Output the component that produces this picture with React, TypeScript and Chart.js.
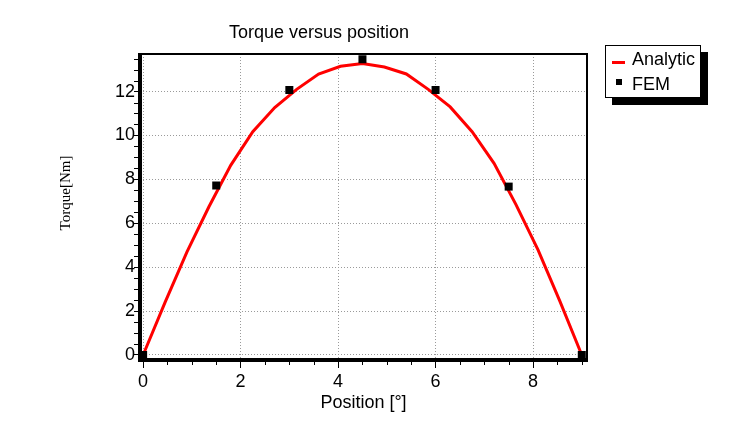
import React, { useEffect, useRef } from "react";
import { Chart, registerables } from "chart.js";

Chart.register(...registerables);

// Analytic torque curve (position in degrees, torque in Nm)
const analyticX = [0, 0.45, 0.9, 1.35, 1.8, 2.25, 2.7, 3.15, 3.6, 4.05, 4.5, 4.95, 5.4, 5.85, 6.3, 6.75, 7.2, 7.65, 8.1, 8.55, 9];
const analyticY = [0, 2.4, 4.7, 6.75, 8.65, 10.17, 11.27, 12.1, 12.8, 13.15, 13.28, 13.12, 12.8, 12.1, 11.3, 10.17, 8.73, 6.85, 4.8, 2.45, 0];

// FEM results
const femX = [0, 1.5, 3, 4.5, 6, 7.5, 9];
const femY = [0, 7.72, 12.07, 13.47, 12.07, 7.67, 0];

// Axis ticks
const xTicks = [0, 2, 4, 6, 8];
const yTicks = [0, 2, 4, 6, 8, 10, 12];
const xMinorTicks = [0.5, 1, 1.5, 2.5, 3, 3.5, 4.5, 5, 5.5, 6.5, 7, 7.5, 8.5, 9];
const yMinorTicks = [0.5, 1, 1.5, 2.5, 3, 3.5, 4.5, 5, 5.5, 6.5, 7, 7.5, 8.5, 9, 9.5, 10.5, 11, 11.5, 12.5, 13, 13.5];

const SANS = "'Liberation Sans', Arial, sans-serif";

export default function App() {
  const ref = useRef<HTMLCanvasElement>(null);

  useEffect(() => {
    if (!ref.current) return;
    const framePlugin = {
      id: "framePlugin",
      afterDraw(chart: any) {
        const { ctx, chartArea, scales } = chart;
        const { left, right, top, bottom } = chartArea;
        ctx.save();
        ctx.strokeStyle = "#000";
        // minor ticks
        ctx.lineWidth = 1;
        ctx.beginPath();
        xMinorTicks.forEach((v) => {
          const px = Math.round(scales.x.getPixelForValue(v)) + 0.5;
          ctx.moveTo(px, bottom);
          ctx.lineTo(px, bottom + 5);
        });
        yMinorTicks.forEach((v) => {
          const py = Math.round(scales.y.getPixelForValue(v)) + 0.5;
          ctx.moveTo(left - 6, py);
          ctx.lineTo(left, py);
        });
        ctx.stroke();
        // thin top/right frame
        ctx.lineWidth = 2;
        ctx.beginPath();
        ctx.moveTo(left, top);
        ctx.lineTo(right, top);
        ctx.lineTo(right, bottom);
        ctx.stroke();
        // thick left/bottom axes
        ctx.lineWidth = 4;
        ctx.beginPath();
        ctx.moveTo(left, top - 1);
        ctx.lineTo(left, bottom + 2);
        ctx.moveTo(left - 2, bottom);
        ctx.lineTo(right + 1, bottom);
        ctx.stroke();
        // y axis title
        ctx.fillStyle = "#000";
        ctx.font = "15px 'Liberation Serif', 'Times New Roman', serif";
        ctx.textAlign = "center";
        ctx.textBaseline = "middle";
        ctx.translate(66, 193);
        ctx.rotate(-Math.PI / 2);
        ctx.fillText("Torque[Nm]", 0, 0);
        ctx.restore();
      },
    };

    const tickFont = { family: SANS, size: 18, weight: "normal" as const, lineHeight: 1.2 };

    const chart = new Chart(ref.current, {
      type: "scatter",
      data: {
        datasets: [
          {
            label: "FEM",
            data: femX.map((x, i) => ({ x, y: femY[i] })),
            pointStyle: "rect",
            pointRadius: 5.66,
            pointHoverRadius: 5.66,
            backgroundColor: "#000",
            borderColor: "#000",
            borderWidth: 0,
            showLine: false,
            clip: false as any,
          },
          {
            label: "Analytic",
            data: analyticX.map((x, i) => ({ x, y: analyticY[i] })),
            showLine: true,
            borderColor: "#ff0000",
            backgroundColor: "#ff0000",
            borderWidth: 3,
            pointRadius: 0,
            pointHoverRadius: 0,
            tension: 0,
            fill: false,
          },
        ],
      },
      options: {
        responsive: false,
        animation: false,
        devicePixelRatio: 1,
        events: [],
        layout: { padding: { left: 51, right: 153, top: 0, bottom: 8 } },
        plugins: {
          legend: { display: false },
          tooltip: { enabled: false },
          title: {
            display: true,
            text: "Torque versus position",
            color: "#000",
            font: { family: SANS, size: 18, weight: "normal", lineHeight: 1.2 },
            padding: { top: 22, bottom: 10.4 },
          },
        },
        scales: {
          x: {
            type: "linear",
            min: -0.064,
            max: 9.107,
            afterFit: (s: any) => {
              s.height = 60;
            },
            afterBuildTicks: (s: any) => {
              s.ticks = xTicks.map((v) => ({ value: v }));
            },
            ticks: { color: "#000", font: tickFont, padding: 3, maxRotation: 0, autoSkip: false },
            grid: {
              color: "#9a9a9a",
              lineWidth: 1,
              drawTicks: true,
              tickLength: 8,
              tickColor: "#000",
              tickWidth: 1,
              tickBorderDash: [],
            } as any,
            border: { display: false, dash: [1, 2] } as any,
            title: {
              display: true,
              text: "Position [°]",
              color: "#000",
              font: tickFont,
              padding: { top: 0, bottom: 5.7 },
            },
          },
          y: {
            type: "linear",
            min: -0.228,
            max: 13.71,
            afterFit: (s: any) => {
              s.width = 89;
            },
            afterBuildTicks: (s: any) => {
              s.ticks = yTicks.map((v) => ({ value: v }));
            },
            ticks: { color: "#000", font: tickFont, padding: -1, autoSkip: false },
            grid: {
              color: "#9a9a9a",
              lineWidth: 1,
              drawTicks: true,
              tickLength: 6,
              tickColor: "#000",
              tickWidth: 1,
              tickBorderDash: [],
            } as any,
            border: { display: false, dash: [1, 2] } as any,
          },
        },
      },
      plugins: [framePlugin],
    });
    return () => chart.destroy();
  }, []);

  return (
    <div style={{ position: "absolute", left: 0, top: 0, width: 740, height: 428, background: "#fff" }}>
      <canvas ref={ref} width={740} height={428} style={{ position: "absolute", left: 0, top: 0, width: 740, height: 428 }} />
      <div
        style={{
          position: "absolute",
          left: 605,
          top: 45,
          width: 96,
          height: 53,
          boxSizing: "border-box",
          border: "1px solid #000",
          background: "#fff",
          boxShadow: "7px 7px 0 #000",
          fontFamily: SANS,
          fontSize: 18,
          lineHeight: "20px",
          color: "#000",
        }}
      >
        <div style={{ position: "absolute", left: 6, top: 15, width: 13, height: 3, background: "#ff0000" }} />
        <div style={{ position: "absolute", left: 26, top: 3, whiteSpace: "nowrap" }}>Analytic</div>
        <div style={{ position: "absolute", left: 10, top: 33, width: 6, height: 6, background: "#000" }} />
        <div style={{ position: "absolute", left: 26, top: 28, whiteSpace: "nowrap" }}>FEM</div>
      </div>
    </div>
  );
}
